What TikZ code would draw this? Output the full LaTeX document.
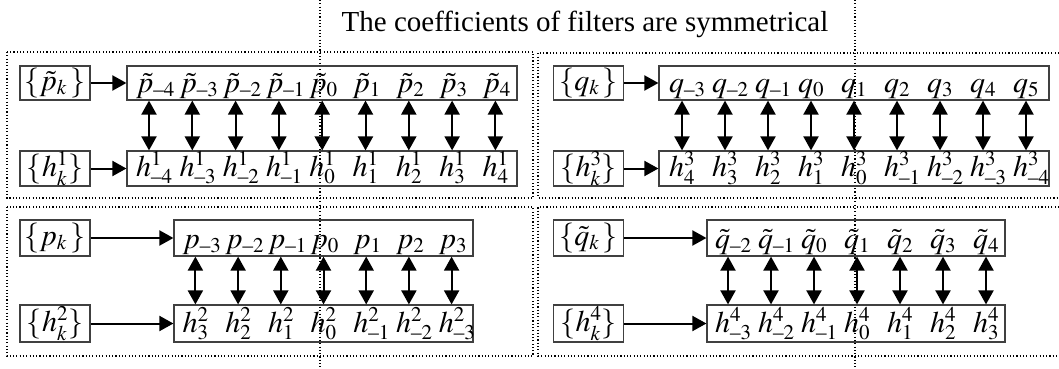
\documentclass[tikz,border=0pt]{standalone}
\usepackage{amsmath}
\usepackage{mathptmx}
\usepackage{fontspec}
\setmainfont{Liberation Serif}
\usetikzlibrary{arrows.meta}
\DeclareMathSizes{30}{30}{21}{15}
\newcommand{\shortminus}{\text{\textendash}}

\tikzset{
  frame/.style={line width=1.1pt, dash pattern=on 1.1pt off 2.2pt},
  srcbox/.style={draw=black!75, line width=1.2pt, minimum width=70pt, inner sep=0pt, font=\fontsize{30}{32}\selectfont},
  seqbox/.style={draw=black!75, line width=1.2pt, inner sep=0pt},
  item/.style={anchor=base west, inner sep=0pt, font=\fontsize{30}{32}\selectfont},
  link/.style={line width=2pt, -{Triangle[length=14pt,width=15pt]}},
  pair/.style={line width=2pt, {Triangle[length=14pt,width=15pt]}-{Triangle[length=14pt,width=15pt]}},
}

\begin{document}
\begin{tikzpicture}[x=1pt, y=-1pt]
    \useasboundingbox (0,0) rectangle (1059,369);

    % タイトル
    \node[anchor=base, font=\fontsize{29}{32}\selectfont] (title) at (585,32) {The coefficients of filters are symmetrical};

    % 点線の枠
    \draw[frame] (7,52) rectangle (533,198);
    \draw[frame] (1059,53) -- (538,53) -- (538,198) -- (1059,198);
    \draw[frame] (7,207) rectangle (533,356);
    \draw[frame] (1059,207) -- (538,207) -- (538,356) -- (1059,356);
    \draw[frame] (320,0) -- (320,369);
    \draw[frame] (855,0) -- (855,369);

    % 左上
    \node[srcbox, minimum height=34pt] (ps) at (55,83) {$\{\tilde{p}_k\,\}$};
    \node[srcbox, minimum height=35pt] (h1s) at (55,168.5) {$\{h^1_k\}$};
    \node[seqbox, minimum width=390pt, minimum height=34pt] (pt) at (322,83) {};
    \node[seqbox, minimum width=390pt, minimum height=35pt] (h1) at (322,168.5) {};
    \draw[link] (ps) -- (pt);
    \draw[link] (h1s) -- (h1);
    \foreach \x/\s/\t [count=\i] in {149/\shortminus4/\shortminus4, 192.3/\shortminus3/\shortminus3,
                                     235.6/\shortminus2/\shortminus2, 278.9/\shortminus1/\shortminus1, 322.2/0/0,
                                     365.5/1/1, 408.8/2/2, 452.1/3/3, 495.4/4/4} {
      \coordinate (a\i) at (\x,0);
      \node[item] (pt\i) at (\x-13,92) {$\tilde{p}_{\s}$};
      \node[item] (h1\i) at (\x-13,176) {$h^1_{\t}$};
      \draw[pair] (a\i |- pt.south) -- (a\i |- h1.north);
    }

    % 右上
    \node[srcbox, minimum height=34pt] (qs) at (588.5,83) {$\{q_k\,\}$};
    \node[srcbox, minimum height=35pt] (h3s) at (588.5,168.5) {$\{h^3_k\}$};
    \node[seqbox, minimum width=390pt, minimum height=34pt] (qt) at (854,83) {};
    \node[seqbox, minimum width=390pt, minimum height=35pt] (h3) at (854,168.5) {};
    \draw[link] (qs) -- (qt);
    \draw[link] (h3s) -- (h3);
    \foreach \x/\s/\t [count=\i] in {682/\shortminus3/4, 725/\shortminus2/3, 768/\shortminus1/2, 811/0/1, 854/1/0,
                                     897/2/\shortminus1, 940/3/\shortminus2, 983/4/\shortminus3, 1026/5/\shortminus4} {
      \coordinate (b\i) at (\x,0);
      \node[item] (qt\i) at (\x-13,92) {$q_{\s}$};
      \node[item] (h3\i) at (\x-13,176) {$h^3_{\t}$};
      \draw[pair] (b\i |- qt.south) -- (b\i |- h3.north);
    }

    % 左下
    \node[srcbox, minimum height=36pt] (pps) at (55,238) {$\{p_k\,\}$};
    \node[srcbox, minimum height=37pt] (h2s) at (55,323.5) {$\{h^2_k\}$};
    \node[seqbox, minimum width=299pt, minimum height=36pt] (ppt) at (323.5,238) {};
    \node[seqbox, minimum width=299pt, minimum height=37pt] (h2) at (323.5,323.5) {};
    \draw[link] (pps) -- (ppt);
    \draw[link] (h2s) -- (h2);
    \foreach \x/\s/\t [count=\i] in {195.4/\shortminus3/3, 238.1/\shortminus2/2, 280.8/\shortminus1/1, 323.5/0/0,
                                     366.2/1/\shortminus1, 408.9/2/\shortminus2, 451.6/3/\shortminus3} {
      \coordinate (c\i) at (\x,0);
      \node[item] (ppt\i) at (\x-13,248) {$p_{\s}$};
      \node[item] (h2\i) at (\x-13,332) {$h^2_{\t}$};
      \draw[pair] (c\i |- ppt.south) -- (c\i |- h2.north);
    }

    % 右下
    \node[srcbox, minimum height=36pt] (qqs) at (588.5,238) {$\{\tilde{q}_k\,\}$};
    \node[srcbox, minimum height=37pt] (h4s) at (588.5,323.5) {$\{h^4_k\}$};
    \node[seqbox, minimum width=298pt, minimum height=36pt] (qqt) at (856,238) {};
    \node[seqbox, minimum width=298pt, minimum height=37pt] (h4) at (856,323.5) {};
    \draw[link] (qqs) -- (qqt);
    \draw[link] (h4s) -- (h4);
    \foreach \x/\s/\t [count=\i] in {728/\shortminus2/\shortminus3, 771/\shortminus1/\shortminus2, 814/0/\shortminus1, 857/1/0,
                                     900/2/1, 943/3/2, 986/4/3} {
      \coordinate (d\i) at (\x,0);
      \node[item] (qqt\i) at (\x-13,248) {$\tilde{q}_{\s}$};
      \node[item] (h4\i) at (\x-13,332) {$h^4_{\t}$};
      \draw[pair] (d\i |- qqt.south) -- (d\i |- h4.north);
    }

\end{tikzpicture}
\end{document}
